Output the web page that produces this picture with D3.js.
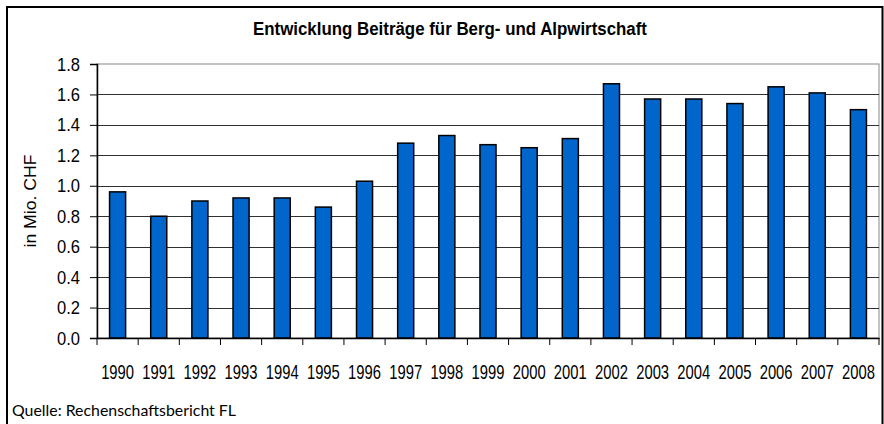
<!DOCTYPE html>
<html><head><meta charset="utf-8">
<script src="https://cdn.jsdelivr.net/npm/d3@7"></script>
<style>body{margin:0;background:#fff}svg{display:block}</style>
</head><body>
<svg id="chart" width="884" height="424"></svg>
<script>
const years = ["1990","1991","1992","1993","1994","1995","1996","1997","1998","1999","2000","2001","2002","2003","2004","2005","2006","2007","2008"];
const values = [0.96,0.80,0.90,0.92,0.92,0.86,1.03,1.28,1.33,1.27,1.25,1.31,1.67,1.57,1.57,1.54,1.65,1.61,1.50];
const yTicks = [0,0.2,0.4,0.6,0.8,1.0,1.2,1.4,1.6,1.8];
const title = "Entwicklung Beiträge für Berg- und Alpwirtschaft";
const yTitle = "in Mio. CHF";
const source = "Quelle: Rechenschaftsbericht FL";

const svg = d3.select("#chart");
const L = 97, R = 879, T = 64, B = 338;
const font = "Liberation Sans, Arial, Helvetica, sans-serif";

// outer frame
svg.append("rect").attr("x",7).attr("y",7).attr("width",875.5).attr("height",430)
  .attr("fill","#fff").attr("stroke","#000").attr("stroke-width",2);

const x = d3.scaleBand().domain(years).range([L,R]).paddingInner(0.61).paddingOuter(0.305);
const y = d3.scaleLinear().domain([0,1.8]).range([B,T]);

// title
svg.append("text").attr("x",450).attr("y",35).attr("text-anchor","middle")
  .attr("font-family",font).attr("font-weight","bold").attr("font-size",18)
  .attr("textLength",394).attr("lengthAdjust","spacingAndGlyphs").attr("fill","#000")
  .text(title);

// plot border
svg.append("rect").attr("x",L).attr("y",T).attr("width",R-L).attr("height",B-T)
  .attr("fill","#fff").attr("stroke","#9a9a9a").attr("stroke-width",1.2);

// gridlines
svg.append("g").selectAll("line").data(yTicks.filter(d=>d>0 && d<1.8)).join("line")
  .attr("x1",L).attr("x2",R).attr("y1",d=>Math.round(y(d))+0.5).attr("y2",d=>Math.round(y(d))+0.5)
  .attr("stroke","#303030").attr("stroke-width",1);

// bars
svg.append("g").selectAll("rect").data(values).join("rect")
  .attr("x",(d,i)=>x(years[i]))
  .attr("y",d=>y(d))
  .attr("width",x.bandwidth())
  .attr("height",d=>B-y(d))
  .attr("fill","#0066CC").attr("stroke","#000").attr("stroke-width",1.5);

// y axis
const yAxis = d3.axisLeft(y).tickValues(yTicks).tickFormat(d3.format(".1f")).tickSize(7).tickPadding(10);
const gy = svg.append("g").attr("transform",`translate(${L},0)`).call(yAxis);
gy.select(".domain").attr("stroke","#000").attr("stroke-width",1.5);
gy.selectAll(".tick line").attr("stroke","#000");
gy.selectAll(".tick text").attr("font-family",font).attr("font-size",19).attr("fill","#000")
  .attr("textLength",23).attr("lengthAdjust","spacingAndGlyphs");

// x axis
const xAxis = d3.axisBottom(x).tickSize(0).tickPadding(0);
const gx = svg.append("g").attr("transform",`translate(0,${B})`).call(xAxis);
gx.select(".domain").attr("stroke","#000").attr("stroke-width",1.5);
gx.selectAll(".tick text").attr("font-family",font).attr("font-size",20).attr("fill","#000")
  .attr("y",0).attr("dy",0).attr("transform","translate(0,41) scale(0.74,1)");
// boundary ticks
const bounds = d3.range(years.length+1).map(i=>L + i*x.step());
svg.append("g").selectAll("line").data(bounds).join("line")
  .attr("x1",d=>d).attr("x2",d=>d).attr("y1",B).attr("y2",B+7)
  .attr("stroke","#000").attr("stroke-width",1);

// y title
svg.append("text").attr("transform",`translate(36,${(T+B)/2}) rotate(-90)`).attr("text-anchor","middle")
  .attr("font-family",font).attr("font-size",17).attr("fill","#000")
  .attr("textLength",93).attr("lengthAdjust","spacingAndGlyphs").text(yTitle);

// source
svg.append("text").attr("x",12).attr("y",416)
  .attr("font-family","Lato, 'Open Sans', sans-serif").attr("font-size",16).attr("fill","#000")
  .attr("textLength",224).attr("lengthAdjust","spacingAndGlyphs").text(source);
</script>
</body></html>
